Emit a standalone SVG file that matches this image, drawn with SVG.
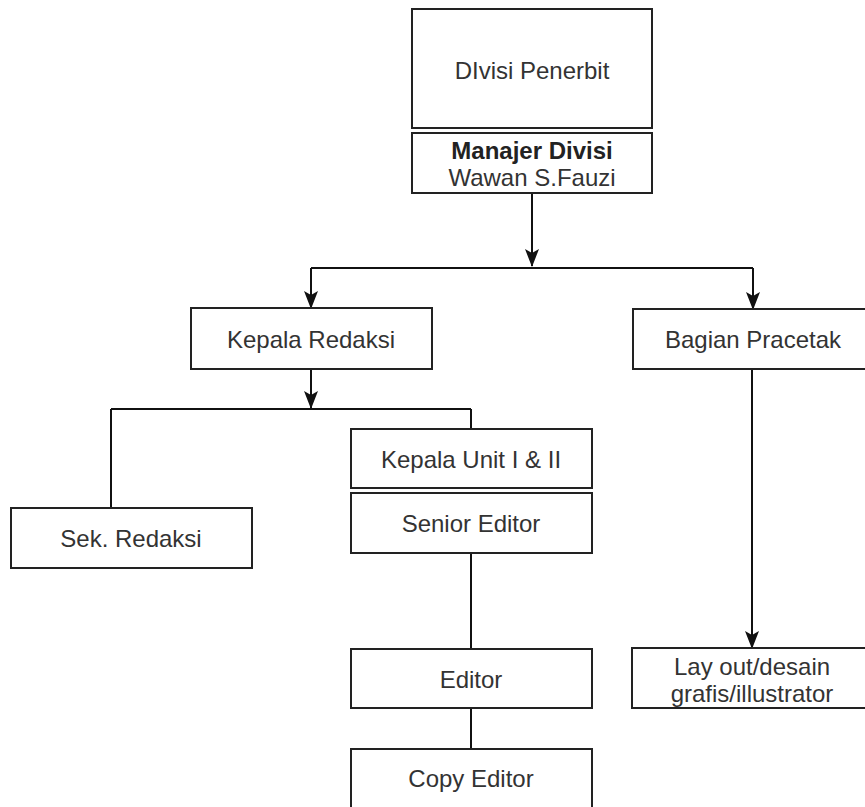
<svg xmlns="http://www.w3.org/2000/svg" width="865" height="807" viewBox="0 0 865 807">
<style>
.box{fill:#fff;stroke:#222;stroke-width:2}
.t{font-family:"Liberation Sans",Arial,sans-serif;font-size:24px;fill:#333;text-anchor:middle;dominant-baseline:central}
.b{font-weight:bold;fill:#222}
.c{fill:none;stroke:#111;stroke-width:2}
</style>
<defs>
<marker id="arr" markerUnits="userSpaceOnUse" markerWidth="18" markerHeight="14" viewBox="0 0 18 14" refX="17" refY="7" orient="auto">
<path d="M0,0 L18,7 L0,14 L4,7 Z" fill="#111"/>
</marker>
</defs>
<rect width="865" height="807" fill="#fff"/>
<g id="connectors">
<path class="c" d="M532,193 V266" marker-end="url(#arr)"/>
<path class="c" d="M311,268 H753"/>
<path class="c" d="M311,268 V308" marker-end="url(#arr)"/>
<path class="c" d="M753,268 V309" marker-end="url(#arr)"/>
<path class="c" d="M311,369 V408" marker-end="url(#arr)"/>
<path class="c" d="M111,409 H471"/>
<path class="c" d="M111,409 V508"/>
<path class="c" d="M471,409 V429"/>
<path class="c" d="M471,553 V649"/>
<path class="c" d="M471,708 V749"/>
<path class="c" d="M752,369 V648" marker-end="url(#arr)"/>
</g>
<g id="divisi-penerbit">
<rect class="box" x="412" y="9" width="240" height="119"/>
<text class="t" x="532" y="70">DIvisi Penerbit</text>
</g>
<g id="manajer-divisi">
<rect class="box" x="412" y="133" width="240" height="60"/>
<text class="t b" x="532" y="150">Manajer Divisi</text>
<text class="t" x="532" y="177">Wawan S.Fauzi</text>
</g>
<g id="kepala-redaksi">
<rect class="box" x="191" y="308" width="241" height="61"/>
<text class="t" x="311" y="339">Kepala Redaksi</text>
</g>
<g id="bagian-pracetak">
<rect class="box" x="633" y="309" width="241" height="60"/>
<text class="t" x="753" y="339">Bagian Pracetak</text>
</g>
<g id="sek-redaksi">
<rect class="box" x="11" y="508" width="241" height="60"/>
<text class="t" x="131" y="538">Sek. Redaksi</text>
</g>
<g id="kepala-unit">
<rect class="box" x="351" y="429" width="241" height="59"/>
<text class="t" x="471" y="459">Kepala Unit I &amp; II</text>
</g>
<g id="senior-editor">
<rect class="box" x="351" y="493" width="241" height="60"/>
<text class="t" x="471" y="523">Senior Editor</text>
</g>
<g id="editor">
<rect class="box" x="351" y="649" width="241" height="59"/>
<text class="t" x="471" y="679">Editor</text>
</g>
<g id="copy-editor">
<rect class="box" x="351" y="749" width="241" height="80"/>
<text class="t" x="471" y="778">Copy Editor</text>
</g>
<g id="layout-desain">
<rect class="box" x="632" y="648" width="242" height="60"/>
<text class="t" x="752" y="666">Lay out/desain</text>
<text class="t" x="752" y="693">grafis/illustrator</text>
</g>
</svg>
